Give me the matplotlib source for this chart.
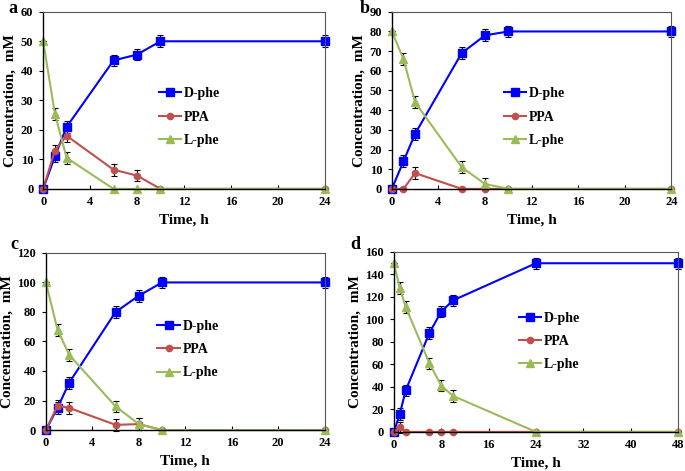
import numpy as np
import matplotlib
matplotlib.use("Agg")
import matplotlib.pyplot as plt

plt.rcParams["font.family"] = "Liberation Serif"
plt.rcParams["font.weight"] = "bold"

# time points
t_short = [0, 1, 2, 6, 8, 10, 24]
t_long = [0, 1, 2, 6, 8, 10, 24, 48]

# panel a
a_dphe = [0, 11, 21, 43.5, 45.5, 50, 50]
a_ppa = [0, 13, 18, 6.5, 4.5, 0, 0]
a_lphe = [50, 25.5, 10.5, 0, 0, 0, 0]
a_err = [0, 2, 2, 2, 2, 2, 2]

# panel b
b_dphe = [0, 14, 28, 69, 78, 80, 80]
b_ppa = [0, 0, 8, 0, 0, 0, 0]
b_lphe = [80, 66, 44, 11, 2.5, 0, 0]
b_err = [0, 3, 3, 3, 3, 3, 3]

# panel c
c_dphe = [0, 15, 32, 80, 91, 100, 100]
c_ppa = [0, 16.5, 15, 3.5, 4, 0, 0]
c_lphe = [100, 68, 51, 16, 4, 0, 0]
c_err = [0, 4, 4, 4, 4, 4, 4]

# panel d
d_dphe = [0, 16, 37, 88, 107, 117, 150, 150]
d_ppa = [0, 4, 0, 0, 0, 0, 0, 0]
d_lphe = [150, 128, 111, 61, 41, 32, 0, 0]
d_err = [0, 5, 5, 5, 5, 5, 5, 5]

blue = "#0000FF"
red = "#C0504D"
green = "#9BBB59"

fig = plt.figure(figsize=(6.85, 4.71), dpi=100)


def panel(rect, letter, letter_xy, t, dphe, ppa, lphe, err, ymax, ystep, xmax, xstep, leg_anchor):
    ax = fig.add_axes(rect)
    err = np.array(err)
    ppa_err = np.where(np.array(ppa) > 0, err, 0)
    lphe_err = np.where(np.array(lphe) > 0, err, 0)
    ekw = dict(ecolor="black", elinewidth=0.8, capsize=2, capthick=0.8)
    ax.errorbar(t, dphe, yerr=err, color=blue, marker="s", ms=5.5, lw=1.5,
                label="D-phe", **ekw)
    ax.errorbar(t, ppa, yerr=ppa_err, color=red, marker="o", ms=4.5, lw=1.5,
                label="PPA", **ekw)
    ax.errorbar(t, lphe, yerr=lphe_err, color=green, marker="^", ms=6, lw=1.5,
                label="L-phe", **ekw)
    ax.set_xlim(0, xmax)
    ax.set_ylim(0, ymax)
    ax.set_xticks(np.arange(0, xmax + 1, xstep))
    ax.set_yticks(np.arange(0, ymax + 1, ystep))
    ax.tick_params(axis="x", direction="in", length=3, labelsize=9, pad=5)
    ax.tick_params(axis="y", direction="out", length=3, labelsize=9, pad=4)
    for lab in ax.get_xticklabels() + ax.get_yticklabels():
        lab.set_fontweight("bold")
    for s in ["top", "right"]:
        ax.spines[s].set_color("#555555")
        ax.spines[s].set_linewidth(0.8)
    for s in ["left", "bottom"]:
        ax.spines[s].set_color("black")
        ax.spines[s].set_linewidth(1.0)
    for c in ax.get_children():
        c.set_clip_on(False)
    ax.set_xlabel("Time, h", fontsize=11, fontweight="bold", labelpad=4)
    ax.set_ylabel("Concentration,  mM", fontsize=11, fontweight="bold", labelpad=3)
    handles, labels = ax.get_legend_handles_labels()
    handles = [h[0] for h in handles]
    ax.legend(handles, labels, loc="upper left", bbox_to_anchor=leg_anchor,
              frameon=False, fontsize=10, handlelength=1.6, handletextpad=0.2,
              labelspacing=0.75, borderaxespad=0)
    fig.text(letter_xy[0] / 685, 1 - letter_xy[1] / 471, letter, fontsize=13,
             fontweight="bold", va="top")
    return ax


panel([0.063, 0.599, 0.411, 0.376], "a", (8, 0), t_short, a_dphe, a_ppa, a_lphe, a_err,
      60, 10, 24, 4, (0.39, 0.605))
panel([0.572, 0.599, 0.408, 0.376], "b", (360, 0), t_short, b_dphe, b_ppa, b_lphe, b_err,
      90, 10, 24, 4, (0.38, 0.605))
panel([0.067, 0.087, 0.407, 0.376], "c", (10, 236), t_short, c_dphe, c_ppa, c_lphe, c_err,
      120, 20, 24, 4, (0.38, 0.655))
panel([0.575, 0.083, 0.415, 0.382], "d", (350, 236), t_long, d_dphe, d_ppa, d_lphe, d_err,
      160, 20, 48, 8, (0.42, 0.70))

fig.savefig("out.png", dpi=100)
